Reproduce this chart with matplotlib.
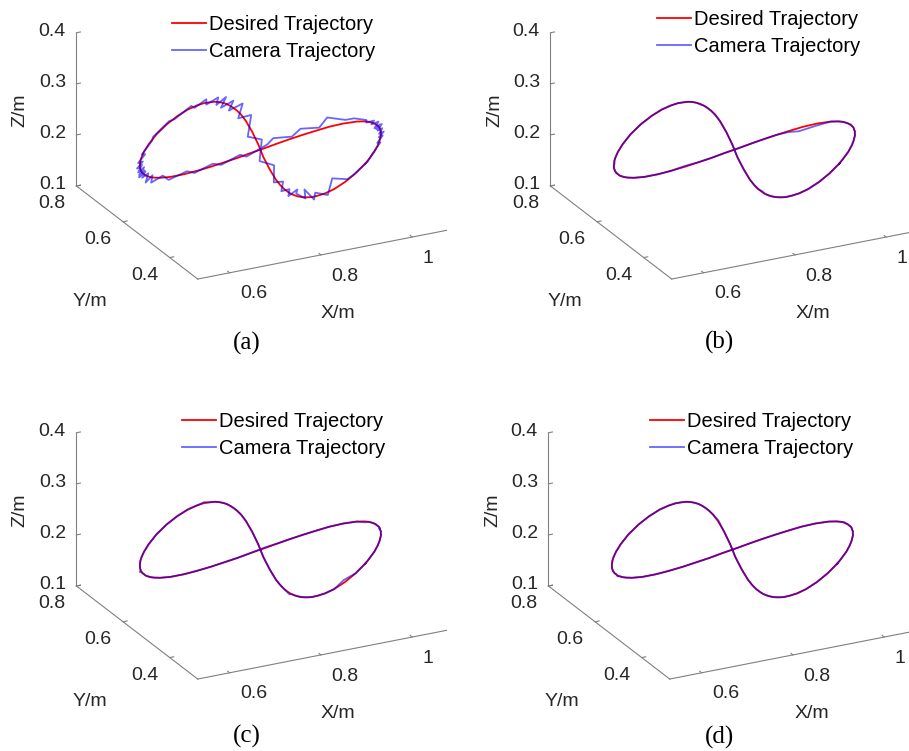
import numpy as np
import matplotlib
matplotlib.use('Agg')
import matplotlib.pyplot as plt
from matplotlib.ticker import FixedLocator

plt.rcParams['font.family'] = ['Liberation Sans', 'DejaVu Sans']

# Desired figure-eight trajectory (m), closed loop, at a constant height
X_DES = [0.952, 0.913, 0.874, 0.839, 0.814, 0.796, 0.782, 0.773, 0.765, 0.760,
         0.756, 0.753, 0.752, 0.752, 0.754, 0.759, 0.771, 0.788, 0.808, 0.826,
         0.840, 0.846, 0.848, 0.848, 0.847, 0.845, 0.841, 0.836, 0.829, 0.819,
         0.807, 0.790, 0.765, 0.732, 0.694, 0.654, 0.618, 0.593, 0.577, 0.566,
         0.559, 0.554, 0.550, 0.547, 0.545, 0.543, 0.542, 0.541, 0.541, 0.541,
         0.541, 0.543, 0.546, 0.551, 0.561, 0.581, 0.611, 0.642, 0.675, 0.708,
         0.741, 0.774, 0.808, 0.842, 0.875, 0.908, 0.941, 0.973, 1.004, 1.032,
         1.046, 1.053, 1.056, 1.058, 1.059, 1.059, 1.059, 1.059, 1.058, 1.056,
         1.054, 1.052, 1.048, 1.044, 1.037, 1.028, 1.015, 0.994, 0.962, 0.952]
Y_DES = [0.387, 0.352, 0.322, 0.300, 0.289, 0.285, 0.284, 0.287, 0.292, 0.298,
         0.306, 0.316, 0.328, 0.344, 0.364, 0.393, 0.442, 0.503, 0.564, 0.625,
         0.680, 0.712, 0.733, 0.750, 0.762, 0.773, 0.781, 0.788, 0.793, 0.795,
         0.796, 0.792, 0.782, 0.762, 0.734, 0.699, 0.662, 0.633, 0.612, 0.596,
         0.584, 0.575, 0.567, 0.560, 0.554, 0.549, 0.543, 0.539, 0.534, 0.529,
         0.524, 0.519, 0.513, 0.508, 0.502, 0.497, 0.497, 0.501, 0.507, 0.515,
         0.523, 0.533, 0.542, 0.552, 0.561, 0.569, 0.576, 0.582, 0.584, 0.581,
         0.575, 0.569, 0.563, 0.558, 0.553, 0.548, 0.543, 0.539, 0.534, 0.528,
         0.523, 0.516, 0.509, 0.500, 0.489, 0.475, 0.457, 0.431, 0.397, 0.387]
Z_LEVEL = 0.215

# Camera tracking error in case (a), mm, one value per trajectory point
ERR_A_X = [3, -4, 5, -2, 4, -5, 3, -4, 6, -3,
           4, -5, 2, -4, 5, -3, 7, -6, 6, -8,
           9, -5, 10, -7, 6, -9, 5, -4, 7, -5,
           4, -3, 6, -5, 4, -6, 5, -4, 6, -3,
           3, -4, 2, -3, 4, -2, 3, -4, 2, -3,
           4, -3, 3, -5, 4, -3, 5, -4, 3, -5,
           5, -6, 7, -5, 4, -3, 5, -4, 3, -4,
           2, -3, 3, -2, 4, -3, 2, -3, 3, -2,
           3, -2, 4, -3, 3, -4, 4, -3, 5, 3]
ERR_A_Y = [-2, 3, -1, 4, -3, 2, -4, 3, -2, 4,
           -3, 2, -3, 4, -2, 3, -4, 5, -3, 4,
           -5, 3, -4, 5, -3, 6, -4, 3, -2, 4,
           -3, 5, -3, 4, -2, 3, -4, 2, -3, 4,
           -6, 4, -5, 3, -7, 4, -5, 6, -4, 5,
           -3, 4, -2, 3, -4, 2, -3, 4, -2, 3,
           -2, 4, -3, 5, -2, 4, -3, 2, -4, 3,
           -5, 6, -4, 7, -5, 4, -6, 5, -4, 6,
           -3, 4, -5, 3, -4, 2, -3, 3, -2, -2]
ERR_A_Z = [3, -4, 5, 20, -3, 6, -4, 15, -3, 5,
           12, -4, 6, -5, 7, -6, 9, -8, 10, -9,
           12, -7, 14, -6, 10, -8, 12, -6, 8, -5,
           8, -6, 7, -7, 6, -5, 7, -6, 5, -6,
           5, -7, 6, -8, 7, -9, 5, -10, 6, -7,
           5, -13, 4, -10, 5, -6, 6, -5, 6, -5,
           6, -7, 8, 10, 5, 11, 6, 18, 8, 6,
           4, -3, 5, -4, 6, -7, 5, -6, 8, -5,
           4, -6, 4, -5, 5, -4, 6, -5, 6, 3]

# Cases (b)-(d): isolated camera deviations, mm, at the listed trajectory points
ERR_B_IDX = [12, 25, 40, 58, 66, 67, 68, 75]
ERR_B_X = [1, -1, 1, -1, -3, -8, -4, 1]
ERR_B_Y = [0, 1, 0, 1, 2, 4, 2, 0]
ERR_B_Z = [1, -1, -1, 1, -3, -9, -5, 1]

ERR_C_IDX = [2, 12, 14, 30, 45, 62, 70, 80]
ERR_C_X = [-2, 3, -2, 1, -2, 2, 1, -2]
ERR_C_Y = [1, -1, 1, 0, 1, -1, 0, 1]
ERR_C_Z = [4, -5, 3, 2, -2, 2, -2, 3]

ERR_D_IDX = [20, 50, 72]
ERR_D_X = [1, -1, 1]
ERR_D_Y = [0, 0, 0]
ERR_D_Z = [1, -1, 1]

X_TICKS = [0.6, 0.8, 1.0]
X_TICKLABELS = ['0.6', '0.8', '1']
Y_TICKS = [0.4, 0.6, 0.8]
Y_TICKLABELS = ['0.4', '0.6', '0.8']
Z_TICKS = [0.1, 0.2, 0.3, 0.4]
Z_TICKLABELS = ['0.1', '0.2', '0.3', '0.4']
CAPTIONS = ['(a)', '(b)', '(c)', '(d)']

xd = np.array(X_DES)
yd = np.array(Y_DES)
zd = np.full(len(xd), Z_LEVEL)


def camera_dense(ex, ey, ez):
    return (xd + np.array(ex) / 1000.0, yd + np.array(ey) / 1000.0,
            zd + np.array(ez) / 1000.0)


def camera_sparse(idx, ex, ey, ez):
    xc, yc, zc = xd.copy(), yd.copy(), zd.copy()
    xc[idx] += np.array(ex) / 1000.0
    yc[idx] += np.array(ey) / 1000.0
    zc[idx] += np.array(ez) / 1000.0
    return xc, yc, zc


cams = [camera_dense(ERR_A_X, ERR_A_Y, ERR_A_Z),
        camera_sparse(ERR_B_IDX, ERR_B_X, ERR_B_Y, ERR_B_Z),
        camera_sparse(ERR_C_IDX, ERR_C_X, ERR_C_Y, ERR_C_Z),
        camera_sparse(ERR_D_IDX, ERR_D_X, ERR_D_Y, ERR_D_Z)]

W, H = 909, 751
fig = plt.figure(figsize=(W / 100, H / 100), dpi=100)

# panel placement in pixels
axes_px = [(37, -29), (511, -29), (37, 371), (509, 371)]
legend_px = [(172, 15), (657, 10), (182, 412), (650, 412)]
caption_px = [(247, 343), (720, 342), (247, 736), (720, 737)]
zlabel_px = [(20, 110), (495, 110), (20, 510), (493, 510)]
ylabel_px = [(90, 302), (565, 302), (90, 702), (562, 702)]
xlabel_px = [(338, 313), (813, 313), (338, 713), (812, 713)]

GREY = '#808080'
TXT = '#262626'


def fpos(p):
    return p[0] / W, 1 - p[1] / H


for k in range(4):
    lx, ty = axes_px[k]
    ax = fig.add_axes([lx / W, 1 - (ty + 330) / H, 440 / W, 330 / H], projection='3d')
    ax.set_proj_type('ortho')
    h1, = ax.plot(xd, yd, zd, color='#ff0000', lw=1.3, label='Desired Trajectory')
    xc, yc, zc = cams[k]
    h2, = ax.plot(xc, yc, zc, color='#0000ff', lw=1.3, alpha=0.6,
                  label='Camera Trajectory')
    ax.set_xlim(0.53, 1.075)
    ax.set_ylim(0.28, 0.8)
    ax.set_zlim(0.1, 0.4)
    ax.set_box_aspect((0.545 * 515, 0.52 * 521, 0.3 * 558), zoom=1.24)
    ax.view_init(elev=22.8, azim=-116.8)
    ax.grid(False)
    ax.xaxis.set_major_locator(FixedLocator(X_TICKS))
    ax.yaxis.set_major_locator(FixedLocator(Y_TICKS))
    ax.zaxis.set_major_locator(FixedLocator(Z_TICKS))
    ax.set_xticklabels(X_TICKLABELS)
    ax.set_yticklabels(Y_TICKLABELS)
    ax.set_zticklabels(Z_TICKLABELS)
    for a in (ax.xaxis, ax.yaxis, ax.zaxis):
        a.set_pane_color((1, 1, 1, 0))
        a.pane.set_edgecolor((1, 1, 1, 0))
        a.line.set_color(GREY)
        a._axinfo['tick']['inward_factor'] = 0.0
        a._axinfo['tick']['outward_factor'] = 0.2
    ax.tick_params(axis='both', labelsize=14, colors=TXT, color=GREY)
    ax.xaxis.set_tick_params(pad=2.6)
    ax.yaxis.set_tick_params(pad=-2.3)
    ax.zaxis.set_tick_params(pad=-4.5)
    for lab in ax.get_xticklabels():
        lab.set_ha('left'); lab.set_va('center')
    for lab in ax.get_yticklabels():
        lab.set_ha('right'); lab.set_va('top')
    for lab in ax.get_zticklabels():
        lab.set_ha('right'); lab.set_va('center')

    gx, gy = legend_px[k]
    ax.legend(handles=[h1, h2], loc='upper left', bbox_to_anchor=fpos((gx, gy)),
              bbox_transform=fig.transFigure, frameon=False, fontsize=14.5,
              handlelength=1.7, handletextpad=0.15, labelspacing=0.38,
              borderpad=0, borderaxespad=0)

    fig.text(*fpos(zlabel_px[k]), 'Z/m', rotation=90, ha='center', va='center',
             fontsize=14, color=TXT)
    fig.text(*fpos(ylabel_px[k]), 'Y/m', ha='center', va='center',
             fontsize=14, color=TXT)
    fig.text(*fpos(xlabel_px[k]), 'X/m', ha='center', va='center',
             fontsize=14, color=TXT)
    fig.text(*fpos(caption_px[k]), CAPTIONS[k], ha='center', va='center',
             fontsize=18, family='Liberation Serif', color='black')

fig.savefig('out.png', dpi=100)
